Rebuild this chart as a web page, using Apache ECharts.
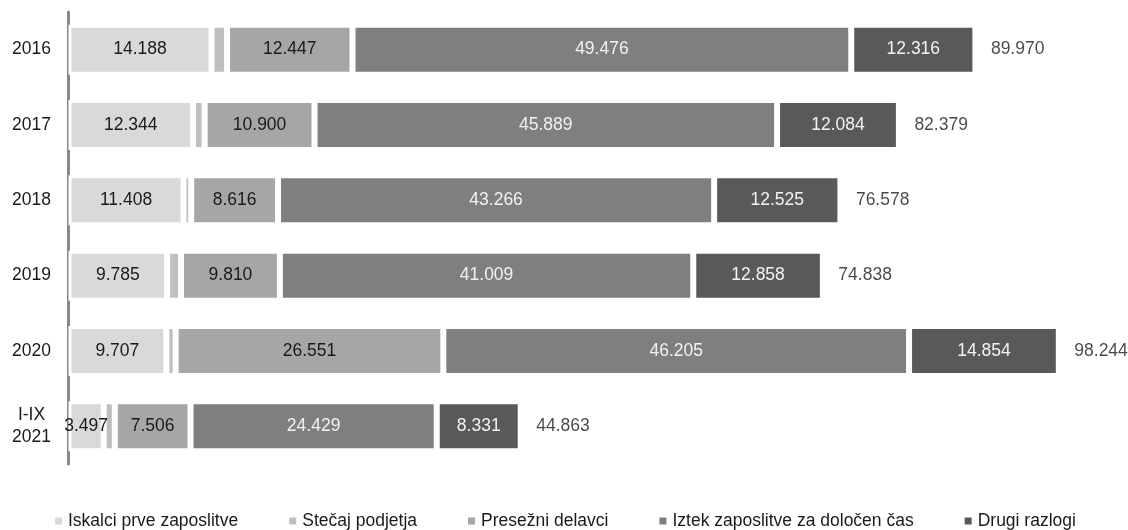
<!DOCTYPE html>
<html>
<head>
<meta charset="utf-8">
<script src="https://cdn.jsdelivr.net/npm/echarts@6/dist/echarts.min.js"></script>
<style>
  html, body { margin: 0; padding: 0; background: #fff; }
  #chart { width: 1128px; height: 530px; }
</style>
</head>
<body>
<div id="chart"></div>
<script>
const categories = ['2016', '2017', '2018', '2019', '2020', 'I-IX\n2021'];
const seriesNames = ['Iskalci prve zaposlitve', 'Stečaj podjetja', 'Presežni delavci', 'Iztek zaposlitve za določen čas', 'Drugi razlogi'];
const iskalci = [14188, 12344, 11408, 9785, 9707, 3497];
const stecaj = [1543, 1162, 763, 1376, 927, 1100];
const presezni = [12447, 10900, 8616, 9810, 26551, 7506];
const iztek = [49476, 45889, 43266, 41009, 46205, 24429];
const drugi = [12316, 12084, 12525, 12858, 14854, 8331];
const totals = [89970, 82379, 76578, 74838, 98244, 44863];

const colors = ['#d9d9d9', '#bfbfbf', '#a6a6a6', '#7f7f7f', '#595959'];
const labelColors = ['#1a1a1a', null, '#1a1a1a', '#f2f2f2', '#f2f2f2'];
const FONT = "'Liberation Sans', Arial, sans-serif";
const FS = 17.5;

const fmt = v => String(v).replace(/\B(?=(\d{3})+(?!\d))/g, '.');

const chart = echarts.init(document.getElementById('chart'));
const values = [iskalci, stecaj, presezni, iztek, drugi];

const barSeries = values.map((arr, i) => ({
  name: seriesNames[i],
  type: 'bar',
  stack: 'total',
  barWidth: 50,
  data: arr,
  itemStyle: { color: colors[i], borderColor: '#fff', borderWidth: 3 },
  label: {
    show: labelColors[i] !== null,
    position: 'inside',
    color: labelColors[i] || '#000',
    fontFamily: FONT,
    fontSize: FS,
    formatter: p => fmt(p.value)
  },
  emphasis: { disabled: true }
}));

const option = {
  animation: false,
  grid: { left: 68.5, top: 12, width: 1008, height: 452 },
  xAxis: { type: 'value', min: 0, max: 100000, show: false },
  yAxis: {
    type: 'category',
    data: categories,
    inverse: true,
    axisTick: { show: false },
    axisLine: { show: true, lineStyle: { color: '#888', width: 3 } },
    axisLabel: { color: '#1a1a1a', fontFamily: FONT, fontSize: FS, margin: 37, lineHeight: 22, align: 'center' },
    splitLine: { show: false }
  },
  legend: {
    data: seriesNames,
    left: 53,
    top: 512,
    padding: 0,
    icon: 'rect',
    itemWidth: 9,
    itemHeight: 9,
    itemGap: 49,
    selectedMode: false,
    textStyle: { color: '#1a1a1a', fontFamily: FONT, fontSize: FS }
  },
  series: barSeries.concat([{
    name: 'total',
    type: 'scatter',
    symbolSize: 0,
    data: totals.map((t, i) => [t, i]),
    label: {
      show: true,
      position: 'right',
      distance: 15.5,
      color: '#1a1a1a',
      fontFamily: FONT,
      fontSize: FS,
      formatter: p => fmt(p.value[0])
    },
    emphasis: { disabled: true }
  }])
};

chart.setOption(option);
</script>
</body>
</html>
